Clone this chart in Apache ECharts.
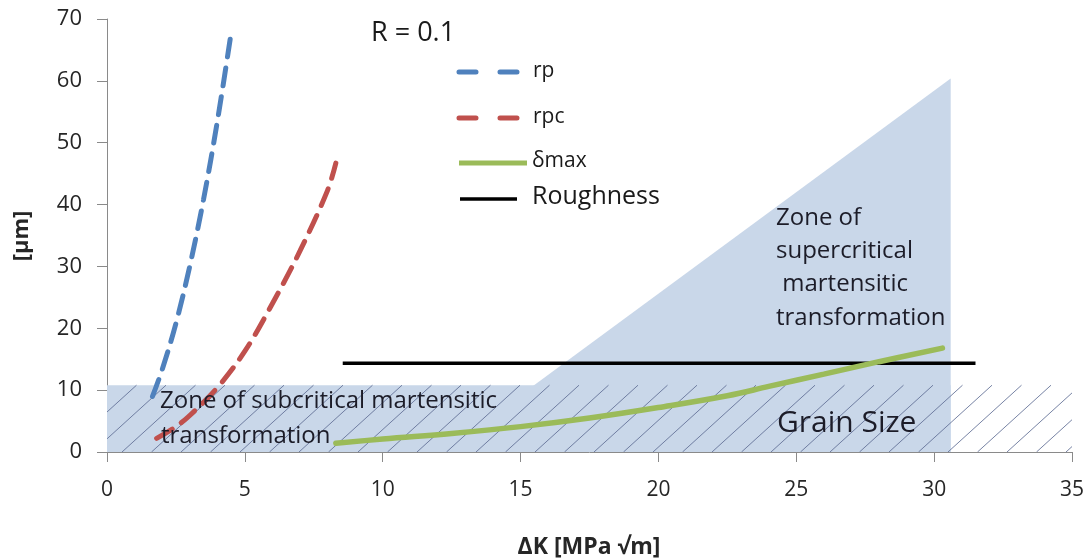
<!DOCTYPE html>
<html>
<head>
<meta charset="utf-8">
<title>Crack-tip zones vs ΔK</title>
<script src="https://cdn.jsdelivr.net/npm/echarts@6/dist/echarts.min.js"></script>
<style>
  html, body { margin: 0; padding: 0; background: #fff; }
  #chart { width: 1087px; height: 558px; }
</style>
</head>
<body>
<div id="chart"></div>
<script>
// Monotonic plastic zone rp  (ΔK, µm)
const rpK   = [1.65, 2.0, 2.5, 3.0, 3.5, 4.0, 4.5];
const rpVal = [9.0, 13.3, 20.8, 30.0, 40.8, 53.4, 67.7];

// Cyclic plastic zone rpc
const rpcK   = [1.8, 2.5, 3.0, 4.0, 5.0, 6.0, 7.0, 8.0, 8.3];
const rpcVal = [2.2, 4.1, 5.9, 10.4, 16.3, 24.0, 32.5, 42.3, 46.7];

// Maximum crack opening δmax
const deltaK   = [8.3, 10, 12.5, 15, 17.5, 20, 22.5, 24, 26, 28, 30.3];
const deltaVal = [1.4, 2.1, 3.0, 4.1, 5.5, 7.2, 9.1, 10.6, 12.6, 14.6, 16.8];

// Surface roughness level
const roughK   = [8.55, 31.5];
const roughVal = [14.35, 14.35];

// Shaded zones: subcritical band and supercritical triangle
const subcriticalK   = [0, 30.6];
const subcriticalTop = 10.8;
const supercriticalK   = [12.2, 30.6, 30.6];
const supercriticalVal = [0, 60.4, 0];

// Hatched grain-size band
const grainK   = [0, 35];
const grainTop = 10.8;

// Axis ranges
const xRange = [0, 35, 5];
const yRange = [0, 70, 10];

const FONT = '"Open Sans", "Liberation Sans", sans-serif';
const TEXT = '#262626';
const ZONE = '#c9d7e9';

const toPairs = (xs, ys) => xs.map((x, i) => [x, ys[i]]);

const chart = echarts.init(document.getElementById('chart'), null, { renderer: 'canvas' });

function renderZones(params, api) {
  if (params.dataIndex === 0) {
    const a = api.coord([subcriticalK[0], subcriticalTop]);
    const b = api.coord([subcriticalK[1], 0]);
    return {
      type: 'rect',
      shape: { x: a[0], y: a[1], width: b[0] - a[0], height: b[1] - a[1] },
      style: { fill: ZONE }
    };
  }
  const pts = supercriticalK.map((k, i) => api.coord([k, supercriticalVal[i]]));
  return { type: 'polygon', shape: { points: pts }, style: { fill: ZONE } };
}

function renderHatch(params, api) {
  const tl = api.coord([grainK[0], grainTop]);
  const br = api.coord([grainK[1], 0]);
  const L = tl[0], R = br[0], T = tl[1], B = br[1];
  const H = B - T;
  const step = 29.5, slope = 1.1;
  const children = [];
  for (let xb = L - H * slope - step; xb < R + step; xb += step) {
    const t0 = Math.max(0, (L - xb) / slope);
    const t1 = Math.min(H, (R - xb) / slope);
    if (t1 <= t0) continue;
    children.push({
      type: 'line',
      shape: { x1: xb + slope * t0, y1: B - t0, x2: xb + slope * t1, y2: B - t1 },
      style: { stroke: '#5f6d94', lineWidth: 0.85 }
    });
  }
  return { type: 'group', children };
}

const option = {
  backgroundColor: '#ffffff',
  animation: false,
  grid: { left: 107, right: 15, top: 19, bottom: 106, containLabel: false },
  xAxis: {
    type: 'value',
    min: xRange[0], max: xRange[1], interval: xRange[2],
    splitLine: { show: false },
    axisLine: { show: true, onZero: false, lineStyle: { color: '#8a8a8a', width: 1 } },
    axisTick: { show: true, inside: false, length: 10, lineStyle: { color: '#8a8a8a' } },
    axisLabel: { margin: 28, fontSize: 21, fontFamily: FONT, color: TEXT }
  },
  yAxis: {
    type: 'value',
    min: yRange[0], max: yRange[1], interval: yRange[2],
    splitLine: { show: false },
    axisLine: { show: true, onZero: false, lineStyle: { color: '#8a8a8a', width: 1 } },
    axisTick: { show: true, inside: false, length: 10, lineStyle: { color: '#8a8a8a' } },
    axisLabel: { margin: 25, fontSize: 22, fontFamily: FONT, color: TEXT }
  },
  series: [
    {
      name: 'zones', type: 'custom', coordinateSystem: 'cartesian2d',
      renderItem: renderZones, data: [[0, 0], [1, 0]], z: 1, silent: true, clip: true
    },
    {
      name: 'Grain Size', type: 'custom', coordinateSystem: 'cartesian2d',
      renderItem: renderHatch, data: [[0, 0]], z: 2, silent: true, clip: true
    },
    {
      name: 'Roughness', type: 'line', data: toPairs(roughK, roughVal),
      showSymbol: false, symbol: 'none', z: 4,
      lineStyle: { color: '#000000', width: 3.5 }
    },
    {
      name: 'δmax', type: 'line', data: toPairs(deltaK, deltaVal),
      smooth: 0.4, showSymbol: false, symbol: 'none', z: 5,
      lineStyle: { color: '#9bbb59', width: 5.5, cap: 'round' }
    },
    {
      name: 'rpc', type: 'line', data: toPairs(rpcK, rpcVal),
      smooth: 0.35, showSymbol: false, symbol: 'none', z: 5,
      lineStyle: { color: '#c0504d', width: 5, type: [18, 11], cap: 'round' }
    },
    {
      name: 'rp', type: 'line', data: toPairs(rpK, rpVal),
      smooth: 0.35, showSymbol: false, symbol: 'none', z: 5,
      lineStyle: { color: '#4f81bd', width: 5, type: [18, 11], cap: 'round' }
    }
  ],
  graphic: [
    // axis titles
    { type: 'text', x: 22, y: 236, rotation: Math.PI / 2, z: 10,
      style: { text: '[µm]', font: 'bold 22px ' + FONT, fill: TEXT, align: 'center', verticalAlign: 'middle' } },
    { type: 'text', x: 589, y: 547, z: 10,
      style: { text: 'ΔK [MPa √m]', font: 'bold 23px ' + FONT, fill: TEXT, align: 'center', verticalAlign: 'middle' } },

    // ratio note
    { type: 'text', x: 371, y: 33, z: 10,
      style: { text: 'R = 0.1', font: '27px ' + FONT, fill: '#1a1a1a', align: 'left', verticalAlign: 'middle' } },

    // legend
    { type: 'line', z: 10, shape: { x1: 459, y1: 72, x2: 520, y2: 72 },
      style: { stroke: '#4f81bd', lineWidth: 5, lineDash: [17, 24], lineCap: 'round' } },
    { type: 'text', x: 533, y: 71, z: 10,
      style: { text: 'rp', font: '21px ' + FONT, fill: '#1a1a1a', align: 'left', verticalAlign: 'middle' } },
    { type: 'line', z: 10, shape: { x1: 459, y1: 118, x2: 520, y2: 118 },
      style: { stroke: '#c0504d', lineWidth: 5, lineDash: [17, 24], lineCap: 'round' } },
    { type: 'text', x: 533, y: 117, z: 10,
      style: { text: 'rpc', font: '21px ' + FONT, fill: '#1a1a1a', align: 'left', verticalAlign: 'middle' } },
    { type: 'line', z: 10, shape: { x1: 459, y1: 163, x2: 527, y2: 163 },
      style: { stroke: '#9bbb59', lineWidth: 5 } },
    { type: 'text', x: 532, y: 161, z: 10,
      style: { text: 'δmax', font: '21px ' + FONT, fill: '#1a1a1a', align: 'left', verticalAlign: 'middle' } },
    { type: 'line', z: 10, shape: { x1: 460, y1: 199, x2: 517, y2: 199 },
      style: { stroke: '#000000', lineWidth: 3.5 } },
    { type: 'text', x: 532, y: 197, z: 10,
      style: { text: 'Roughness', font: '25px ' + FONT, fill: '#1a1a1a', align: 'left', verticalAlign: 'middle' } },

    // zone annotations
    { type: 'text', x: 776, y: 218, z: 10,
      style: { text: 'Zone of', font: '24px ' + FONT, fill: '#1c1c28', align: 'left', verticalAlign: 'middle' } },
    { type: 'text', x: 776, y: 251, z: 10,
      style: { text: 'supercritical', font: '24px ' + FONT, fill: '#1c1c28', align: 'left', verticalAlign: 'middle' } },
    { type: 'text', x: 776, y: 284, z: 10,
      style: { text: ' martensitic', font: '24px ' + FONT, fill: '#1c1c28', align: 'left', verticalAlign: 'middle' } },
    { type: 'text', x: 776, y: 318, z: 10,
      style: { text: 'transformation', font: '24px ' + FONT, fill: '#1c1c28', align: 'left', verticalAlign: 'middle' } },
    { type: 'text', x: 160, y: 401, z: 10,
      style: { text: 'Zone of subcritical martensitic', font: '24px ' + FONT, fill: '#1c1c28', align: 'left', verticalAlign: 'middle' } },
    { type: 'text', x: 161, y: 436, z: 10,
      style: { text: 'transformation', font: '24px ' + FONT, fill: '#1c1c28', align: 'left', verticalAlign: 'middle' } },
    { type: 'text', x: 777, y: 423, z: 10,
      style: { text: 'Grain Size', font: '30px ' + FONT, fill: '#1c1c28', align: 'left', verticalAlign: 'middle' } }
  ]
};

chart.setOption(option);
</script>
</body>
</html>
